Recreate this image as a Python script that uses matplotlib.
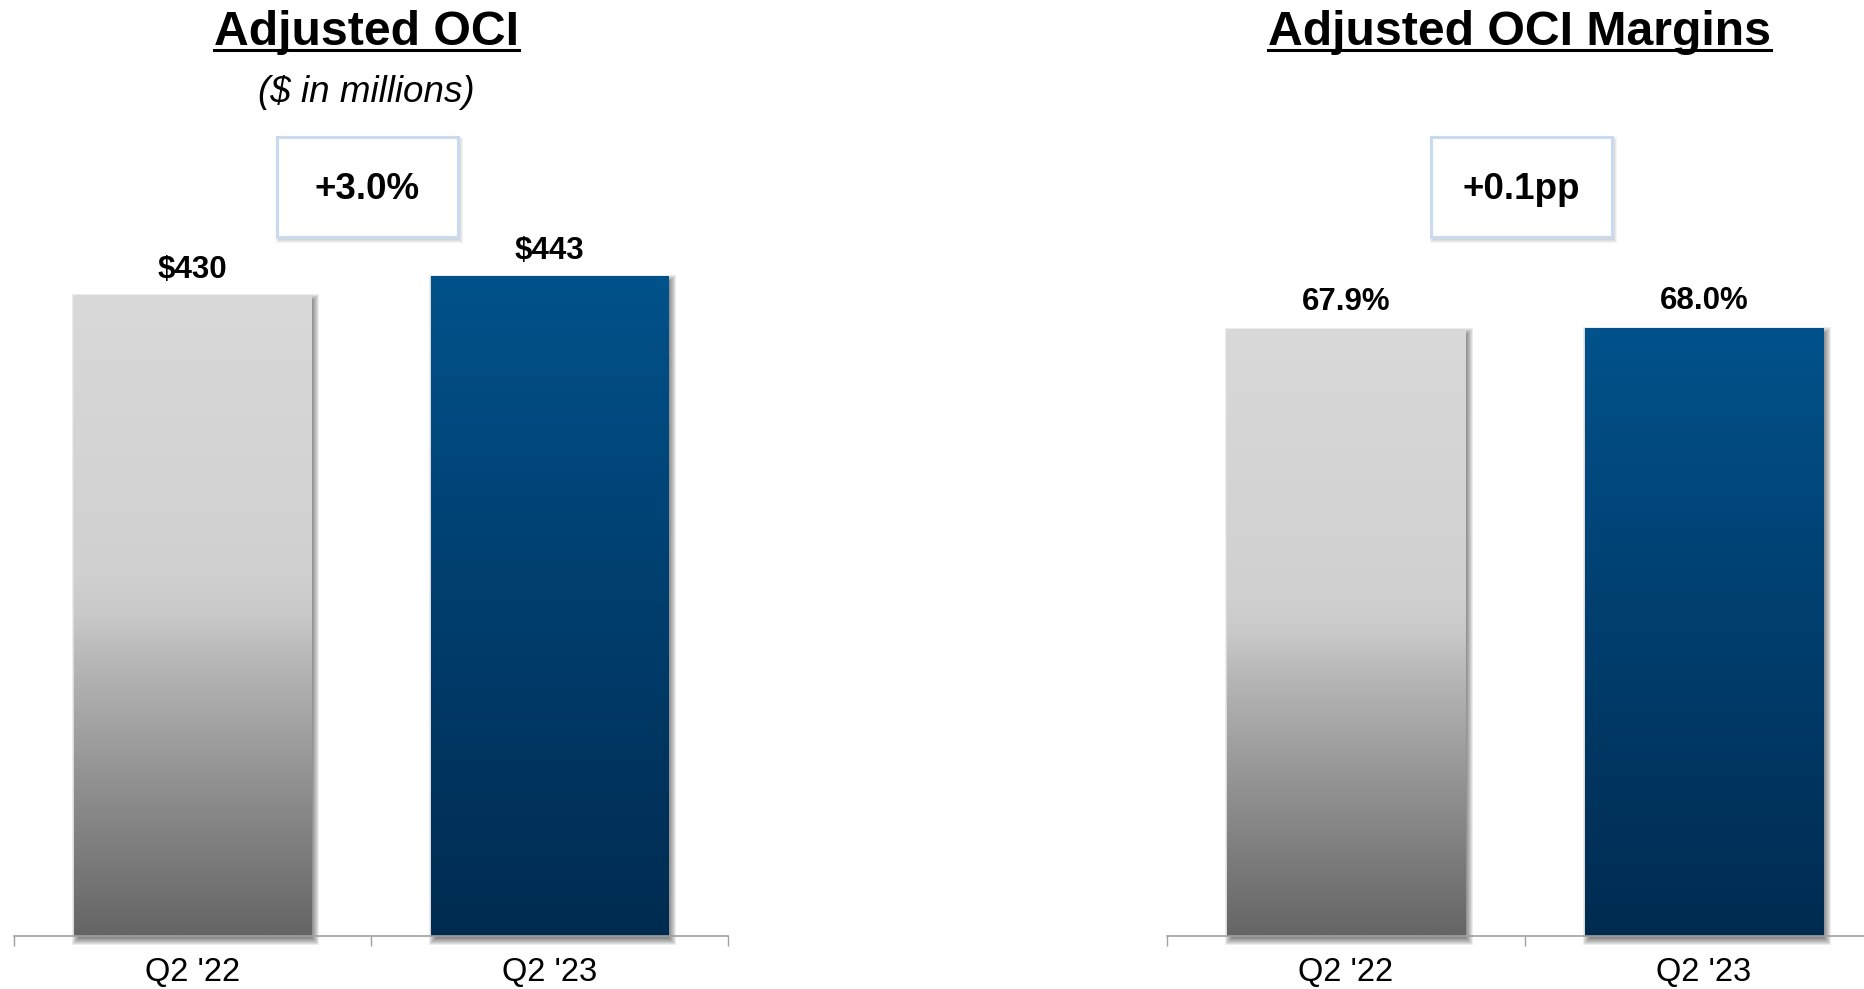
"""Adjusted OCI and OCI margin, Q2 '22 vs Q2 '23."""
import numpy as np
import matplotlib
matplotlib.use("Agg")
import matplotlib.pyplot as plt
from matplotlib.colors import LinearSegmentedColormap
from matplotlib.patches import Rectangle
from matplotlib.lines import Line2D
from matplotlib.transforms import IdentityTransform, blended_transform_factory

periods = ["Q2 '22", "Q2 '23"]
oci = [430, 443]
margins = [67.9, 68.0]
oci_change = "+3.0%"
margin_change = "+0.1pp"

plt.rcParams['font.family'] = ['Liberation Sans', 'DejaVu Sans']

GREY = LinearSegmentedColormap.from_list(
    "grey_bar",
    [(0.0, "#656565"), (0.23, "#8f8f8f"), (0.42, "#b5b5b5"),
     (0.5, "#c9c9c9"), (0.56, "#d0d0d0"), (1.0, "#d9d9d9")])
BLUE = LinearSegmentedColormap.from_list(
    "blue_bar", [(0.0, "#002b50"), (0.5, "#003e6e"), (1.0, "#02528b")])
BAR_W = 0.665

fig = plt.figure(figsize=(18.65, 9.89), dpi=100)
ax_l = fig.add_axes([14 / 1865, 53 / 989, 714 / 1865, 936 / 989])
ax_r = fig.add_axes([1167 / 1865, 53 / 989, 716 / 1865, 936 / 989])


def soft_shadow(ax, x0, y0, x1, y1, dx=3, dy=-4, blur=9, alpha=0.075, z=1):
    """Stack of expanding translucent rectangles, in display pixels."""
    for k in range(blur):
        grow = blur - k - 4
        ax.add_patch(Rectangle((x0 + dx - grow, y0 + dy - grow),
                               (x1 - x0) + 2 * grow, (y1 - y0) + 2 * grow,
                               transform=IdentityTransform(), facecolor="black",
                               edgecolor="none", alpha=alpha, zorder=z,
                               clip_on=False))


def setup(ax, values, ymax, cmap_list, fmt, label_gap, title, change):
    ax.set_xlim(-0.5, 1.5)
    ax.set_ylim(0, ymax)
    ax.patch.set_alpha(0)
    for s in ("left", "right", "top"):
        ax.spines[s].set_visible(False)
    ax.spines["bottom"].set_color("#a0a0a0")
    ax.spines["bottom"].set_linewidth(1.2)
    ax.set_yticks([])
    ax.set_xticks([-0.5, 0.5, 1.5])
    ax.set_xticklabels([])
    ax.tick_params(axis="x", which="major", length=7.5, width=1.0,
                   color="#a0a0a0", direction="out")
    ax.set_xticks([0, 1], minor=True)
    ax.set_xticklabels(periods, minor=True, fontsize=23.5)
    ax.tick_params(axis="x", which="minor", length=0, pad=15)

    xs = np.arange(len(values))
    bars = ax.bar(xs, values, width=BAR_W, color="none", zorder=3)
    for bar, cmap, v in zip(bars, cmap_list, values):
        x0, y0 = bar.get_x(), bar.get_y()
        x1, y1 = x0 + bar.get_width(), y0 + bar.get_height()
        grad = np.linspace(0, 1, 256).reshape(-1, 1)
        im = ax.imshow(grad, cmap=cmap, origin="lower", aspect="auto",
                       extent=(x0, x1, y0, y1), zorder=2)
        im.set_clip_path(bar)
        (px0, py0), (px1, py1) = ax.transData.transform([(x0, y0), (x1, y1)])
        soft_shadow(ax, px0, py0, px1, py1)
        ax.annotate(fmt(v), (bar.get_x() + bar.get_width() / 2, y1),
                    xytext=(0, label_gap), textcoords="offset points",
                    ha="center", va="baseline", fontsize=22.5,
                    fontweight="bold")
    ax.set_xlim(-0.5, 1.5)
    ax.set_ylim(0, ymax)

    # change box between the two bars
    tr = blended_transform_factory(ax.transData, ax.transAxes)
    bw, by0, bh = 0.507, 699 / 936, 100 / 936
    bx0 = 0.49 - bw / 2
    (qx0, qy0) = tr.transform((bx0, by0))
    (qx1, qy1) = tr.transform((bx0 + bw, by0 + bh))
    soft_shadow(ax, qx0, qy0, qx1, qy1, dx=2, dy=-3, blur=7, alpha=0.045, z=4)
    ax.add_patch(Rectangle((bx0, by0), bw, bh, transform=tr, facecolor="white",
                           edgecolor="#c9d9f0", linewidth=2.2, zorder=5,
                           clip_on=False))
    ax.text(bx0 + bw / 2, by0 + bh / 2 - 0.003, change, transform=tr,
            ha="center", va="center", fontsize=26.5, fontweight="bold",
            zorder=6)

    t = ax.text(0.493, (936 - 45) / 936, title, transform=ax.transAxes,
                ha="center", va="baseline", fontsize=34.7, fontweight="bold",
                clip_on=False)
    return t


title_l = setup(ax_l, oci, 936 / 1.4907, [GREY, BLUE], lambda v: f"${v:.0f}",
                12.2, "Adjusted OCI", oci_change)
title_r = setup(ax_r, margins, 936 / 8.94, [GREY, BLUE], lambda v: f"{v:.1f}%",
                13.7, "Adjusted OCI Margins", margin_change)

ax_l.text(0.4935, (936 - 102) / 936, "($ in millions)", transform=ax_l.transAxes,
          ha="center", va="baseline", fontsize=26.5, style="italic")

# underline the two headings
fig.canvas.draw()
renderer = fig.canvas.get_renderer()
for ax, t in ((ax_l, title_l), (ax_r, title_r)):
    bb = t.get_window_extent(renderer)
    uy = ax.transAxes.transform((0, (936 - 50) / 936))[1]
    fig.add_artist(Line2D([bb.x0, bb.x1], [uy, uy], transform=IdentityTransform(),
                          color="black", linewidth=2.2))

fig.savefig("out.png", dpi=100, facecolor="white")
